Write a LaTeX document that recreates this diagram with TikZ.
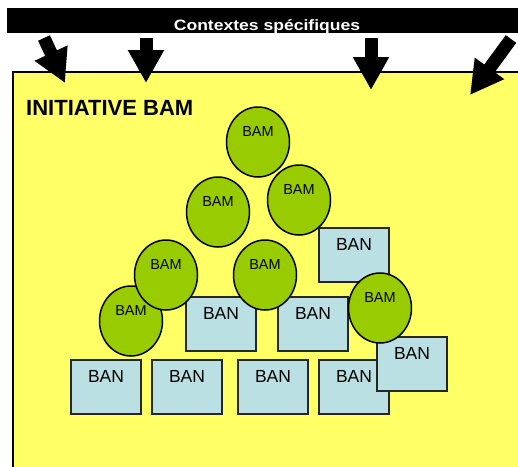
\documentclass[tikz,border=0pt]{standalone}
\usepackage{fontspec}
\setmainfont{Liberation Sans}
\usetikzlibrary{shapes.geometric,arrows.meta}
\definecolor{fondjaune}{RGB}{255,255,102}
\definecolor{vertbam}{RGB}{153,204,0}
\definecolor{bleuban}{RGB}{187,224,228}
\tikzset{
  bam/.style={ellipse, draw=black, line width=1.5pt, fill=vertbam,
    minimum width=63pt, minimum height=70pt, inner sep=0pt,
    text height=10.5pt, text depth=21.5pt, font=\fontsize{14.5}{15}\selectfont},
  ban/.style={rectangle, draw=black!85, line width=2pt, fill=bleuban,
    minimum width=70pt, minimum height=54pt, inner sep=0pt,
    text height=13pt, text depth=22pt, font=\fontsize{17.5}{18}\selectfont},
  fleche/.style={line width=13pt, -{Triangle[width=34pt,length=33pt]}}
}
\begin{document}
\begin{tikzpicture}[x=1pt,y=-1pt]
                \useasboundingbox (0,0) rectangle (518,466);
                % bandeau du haut
                \begin{scope}
                \clip (7,8) rectangle (522,33);
                \fill[black] (7,8) rectangle (522,33);
                \node[anchor=base, text=white, inner sep=0pt, font=\bfseries\fontsize{15}{16}\selectfont] (ctx) at (267,30) {\scalebox{1.17}[1]{Contextes spécifiques}};
                \end{scope}
                % cadre jaune
                \draw[fill=fondjaune, line width=1.5pt] (13,72) rectangle (530,480);
                \node[anchor=base west, inner sep=0pt, font=\bfseries\fontsize{22}{24}\selectfont] (titre) at (26,115) {INITIATIVE BAM};
                % fleches
                \coordinate (f1a) at (44,38);  \coordinate (f1b) at (65,83);
                \coordinate (f2a) at (146,38); \coordinate (f2b) at (146,83);
                \coordinate (f3a) at (371,38); \coordinate (f3b) at (371,90);
                \coordinate (f4a) at (511,39); \coordinate (f4b) at (470,95);
                \draw[fleche] (f1a) -- (f1b);
                \draw[fleche] (f2a) -- (f2b);
                \draw[fleche] (f3a) -- (f3b);
                \draw[fleche] (f4a) -- (f4b);
                % BAN
                \node[ban] (n1) at (354,255) {BAN};
                \node[ban] (n2) at (221,324) {BAN};
                \node[ban] (n3) at (313,324) {BAN};
                \node[ban] (n4) at (106,387) {BAN};
                \node[ban] (n5) at (187,387) {BAN};
                \node[ban] (n6) at (273,387) {BAN};
                \node[ban] (n7) at (354,387) {BAN};
                \node[ban] (n8) at (412,364) {BAN};
                % BAM
                \node[bam] (m1) at (258,142) {BAM};
                \node[bam] (m2) at (218,212) {BAM};
                \node[bam] (m3) at (299,200) {BAM};
                \node[bam] (m7) at (131,321) {BAM};
                \node[bam] (m4) at (166,275) {BAM};
                \node[bam] (m5) at (265,275) {BAM};
                \node[bam] (m6) at (380,308) {BAM};
\end{tikzpicture}
\end{document}
